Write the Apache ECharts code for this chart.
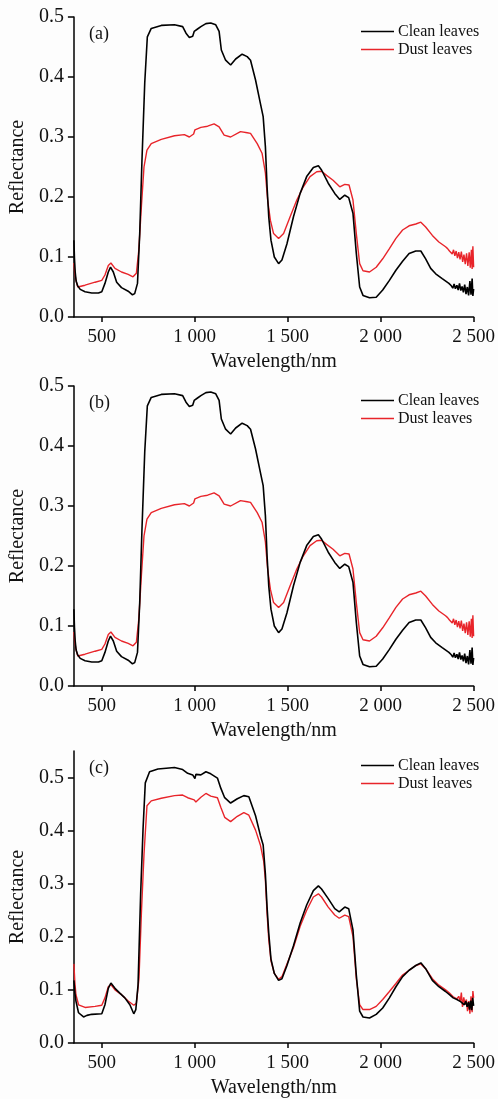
<!DOCTYPE html>
<html>
<head>
<meta charset="utf-8">
<title>Leaf reflectance spectra</title>
<script src="https://cdn.jsdelivr.net/npm/echarts@6/dist/echarts.min.js"></script>
<style>
  html, body { margin: 0; padding: 0; background: #fdfdfd; }
  #chart { width: 498px; height: 1099px; }
</style>
</head>
<body>
<div id="chart"></div>
<script>
// Wavelength ticks (nm) and their printed labels
const xTickValues = [500, 1000, 1500, 2000, 2500];
const xTickLabels = ['500', '1 000', '1 500', '2 000', '2 500'];
const yTickValues = [0, 0.1, 0.2, 0.3, 0.4, 0.5];
const seriesNames = ['Clean leaves', 'Dust leaves'];
const panelLabels = ['(a)', '(b)', '(c)'];

// Reflectance spectra [wavelength nm, reflectance], panels (a) and (b)
const cleanAB = [
  [350,0.128],[353,0.098],[357,0.075],[362,0.060],[370,0.052],[384,0.046],[410,0.042],[446,0.040],
  [482,0.040],[500,0.042],[517,0.056],[535,0.075],[547,0.083],[562,0.075],[580,0.058],[606,0.049],
  [642,0.043],[665,0.037],[677,0.039],[692,0.056],[704,0.139],[716,0.260],[731,0.390],[745,0.467],
  [766,0.481],[820,0.486],[891,0.487],[935,0.484],[953,0.473],[971,0.466],[989,0.468],[997,0.476],
  [1015,0.480],[1033,0.484],[1060,0.489],[1086,0.490],[1113,0.487],[1131,0.476],[1143,0.445],[1166,0.428],
  [1193,0.420],[1220,0.430],[1255,0.438],[1282,0.434],[1300,0.428],[1327,0.395],[1353,0.356],[1368,0.334],
  [1380,0.284],[1389,0.217],[1398,0.167],[1410,0.128],[1428,0.100],[1451,0.089],[1469,0.095],[1496,0.122],
  [1531,0.167],[1567,0.206],[1602,0.234],[1638,0.249],[1665,0.252],[1682,0.245],[1718,0.223],[1753,0.206],
  [1780,0.196],[1807,0.203],[1828,0.199],[1851,0.173],[1869,0.106],[1887,0.050],[1905,0.036],[1940,0.032],
  [1976,0.033],[2011,0.045],[2047,0.061],[2082,0.078],[2118,0.093],[2153,0.106],[2189,0.110],[2216,0.110],
  [2242,0.097],[2269,0.081],[2296,0.072],[2331,0.064],[2367,0.056],[2380,0.052],[2388,0.048],[2395,0.055],
  [2402,0.047],[2410,0.053],[2417,0.045],[2424,0.056],[2431,0.044],[2438,0.051],[2445,0.041],[2452,0.054],
  [2459,0.038],[2466,0.050],[2473,0.036],[2480,0.060],[2486,0.037],[2492,0.064],[2496,0.035],[2500,0.047]
];
const dustAB = [
  [350,0.090],[354,0.075],[361,0.061],[371,0.050],[410,0.053],[464,0.058],[500,0.061],[517,0.070],
  [535,0.086],[549,0.090],[571,0.081],[606,0.075],[642,0.071],[668,0.067],[686,0.073],[699,0.111],
  [713,0.184],[727,0.250],[743,0.278],[766,0.289],[820,0.296],[891,0.302],[944,0.304],[971,0.300],
  [994,0.305],[1001,0.312],[1033,0.316],[1069,0.318],[1104,0.322],[1131,0.317],[1158,0.303],[1193,0.300],
  [1246,0.309],[1282,0.307],[1300,0.306],[1336,0.289],[1362,0.273],[1380,0.240],[1392,0.195],[1407,0.161],
  [1424,0.139],[1451,0.131],[1478,0.139],[1513,0.167],[1549,0.195],[1584,0.217],[1620,0.234],[1656,0.242],
  [1682,0.243],[1709,0.236],[1744,0.228],[1780,0.217],[1807,0.221],[1830,0.220],[1851,0.195],[1869,0.139],
  [1887,0.089],[1905,0.077],[1940,0.075],[1976,0.083],[2011,0.097],[2047,0.114],[2082,0.131],[2118,0.145],
  [2153,0.152],[2189,0.155],[2216,0.158],[2242,0.150],[2278,0.136],[2313,0.125],[2349,0.117],[2360,0.114],
  [2370,0.110],[2378,0.113],[2385,0.105],[2392,0.112],[2399,0.102],[2406,0.110],[2413,0.098],[2420,0.108],
  [2427,0.096],[2434,0.109],[2441,0.092],[2448,0.104],[2455,0.088],[2462,0.106],[2469,0.085],[2476,0.108],
  [2482,0.082],[2488,0.112],[2492,0.080],[2496,0.118],[2500,0.083]
];

// Reflectance spectra, panel (c)
const cleanC = [
  [350,0.118],[355,0.095],[361,0.079],[375,0.057],[402,0.049],[420,0.052],[446,0.054],[500,0.055],
  [517,0.072],[535,0.103],[549,0.113],[571,0.103],[597,0.094],[624,0.085],[651,0.072],[672,0.055],
  [683,0.063],[695,0.109],[709,0.281],[722,0.404],[734,0.490],[757,0.511],[802,0.516],[891,0.519],
  [935,0.515],[962,0.508],[989,0.505],[1001,0.498],[1006,0.506],[1033,0.505],[1060,0.511],[1086,0.507],
  [1122,0.499],[1140,0.480],[1161,0.462],[1193,0.452],[1229,0.460],[1264,0.466],[1291,0.464],[1300,0.462],
  [1327,0.428],[1353,0.391],[1368,0.373],[1380,0.318],[1389,0.256],[1398,0.207],[1410,0.158],[1428,0.131],
  [1451,0.118],[1469,0.121],[1496,0.146],[1531,0.183],[1567,0.226],[1602,0.260],[1638,0.287],[1665,0.296],
  [1682,0.290],[1718,0.272],[1753,0.253],[1777,0.247],[1807,0.256],[1828,0.253],[1851,0.213],[1869,0.128],
  [1887,0.060],[1905,0.049],[1940,0.047],[1976,0.054],[2011,0.066],[2047,0.085],[2082,0.106],[2118,0.125],
  [2153,0.137],[2189,0.146],[2216,0.151],[2242,0.140],[2278,0.118],[2313,0.106],[2349,0.097],[2370,0.091],
  [2380,0.088],[2390,0.085],[2400,0.087],[2410,0.082],[2420,0.084],[2430,0.078],[2440,0.081],[2450,0.072],
  [2458,0.079],[2465,0.068],[2472,0.077],[2478,0.063],[2484,0.080],[2490,0.062],[2495,0.085],[2500,0.070]
];
const dustC = [
  [350,0.149],[355,0.115],[361,0.091],[375,0.072],[410,0.067],[464,0.069],[500,0.071],[517,0.085],
  [535,0.106],[549,0.110],[571,0.100],[606,0.091],[642,0.079],[672,0.071],[686,0.075],[700,0.121],
  [713,0.244],[727,0.355],[743,0.447],[766,0.456],[820,0.461],[891,0.466],[935,0.467],[962,0.462],
  [997,0.458],[1006,0.454],[1033,0.463],[1060,0.470],[1086,0.465],[1122,0.462],[1140,0.444],[1161,0.425],
  [1193,0.417],[1229,0.427],[1264,0.434],[1291,0.429],[1300,0.428],[1327,0.401],[1353,0.373],[1371,0.342],
  [1380,0.306],[1389,0.244],[1398,0.195],[1410,0.155],[1428,0.131],[1451,0.120],[1469,0.125],[1496,0.149],
  [1531,0.180],[1567,0.220],[1602,0.250],[1638,0.275],[1665,0.281],[1682,0.275],[1718,0.256],[1753,0.241],
  [1777,0.235],[1807,0.241],[1828,0.238],[1851,0.201],[1869,0.121],[1887,0.072],[1905,0.063],[1940,0.063],
  [1976,0.069],[2011,0.082],[2047,0.097],[2082,0.112],[2118,0.128],[2153,0.137],[2189,0.146],[2216,0.149],
  [2242,0.140],[2278,0.121],[2313,0.109],[2349,0.100],[2370,0.094],[2380,0.092],[2390,0.087],[2400,0.090],
  [2410,0.083],[2420,0.088],[2428,0.078],[2434,0.095],[2440,0.068],[2447,0.086],[2454,0.072],[2461,0.082],
  [2467,0.060],[2474,0.079],[2480,0.055],[2486,0.088],[2492,0.058],[2496,0.098],[2500,0.085]
];

const panelData = [[cleanAB, dustAB], [cleanAB, dustAB], [cleanC, dustC]];

// Layout of the three stacked panels
const panels = [
  { top: 17,  height: 300, ymax: 0.5 },
  { top: 386, height: 300, ymax: 0.5 },
  { top: 751, height: 298, ymax: 0.55 }
];
const plotLeft = 72, plotWidth = 403;
const serif = '"Liberation Serif", "Times New Roman", serif';
const lineColors = ['#000000', '#e8242a'];
const lineWidths = [1.6, 1.4];

const grid = [], xAxis = [], yAxis = [], series = [], legend = [], title = [];

panels.forEach((p, i) => {
  grid.push({ left: plotLeft, top: p.top, width: plotWidth, height: p.height });

  xAxis.push({
    gridIndex: i, type: 'value', min: 350, max: 2500,
    axisLine: { show: true, onZero: false, lineStyle: { color: '#000', width: 1.5 } },
    axisTick: { show: true, length: 5, customValues: xTickValues, lineStyle: { color: '#000', width: 1.5 } },
    axisLabel: {
      customValues: xTickValues,
      formatter: v => xTickLabels[xTickValues.indexOf(v)],
      fontFamily: serif, fontSize: 19, color: '#111', margin: 11
    },
    splitLine: { show: false },
    name: 'Wavelength/nm', nameLocation: 'middle', nameGap: 35,
    nameTextStyle: { fontFamily: serif, fontSize: 20, color: '#111' }
  });

  yAxis.push({
    gridIndex: i, type: 'value', min: 0, max: p.ymax,
    axisLine: { show: true, lineStyle: { color: '#000', width: 1.5 } },
    axisTick: { show: true, length: 6, customValues: yTickValues, lineStyle: { color: '#000', width: 1.5 } },
    axisLabel: {
      customValues: yTickValues,
      formatter: v => v.toFixed(1),
      fontFamily: serif, fontSize: 20, color: '#111', margin: 10
    },
    splitLine: { show: false },
    name: 'Reflectance', nameLocation: 'middle', nameGap: 45,
    nameTextStyle: { fontFamily: serif, fontSize: 20, color: '#111' }
  });

  panelData[i].forEach((d, k) => {
    series.push({
      name: seriesNames[k], type: 'line', xAxisIndex: i, yAxisIndex: i,
      data: d, symbol: 'none', showSymbol: false, silent: true, animation: false,
      lineStyle: { color: lineColors[k], width: lineWidths[k] }, itemStyle: { color: lineColors[k] },
      z: k === 0 ? 3 : 2
    });
  });

  legend.push({
    orient: 'vertical', left: 356, top: p.top + 1,
    icon: 'rect', itemWidth: 33, itemHeight: 1.6, itemGap: 1, selectedMode: false,
    data: seriesNames,
    textStyle: { fontFamily: serif, fontSize: 16, color: '#111', lineHeight: 17, padding: [0, 0, 0, -1] }
  });

  title.push({
    text: panelLabels[i], left: 84, top: p.top + 3,
    textStyle: { fontFamily: serif, fontSize: 18, fontWeight: 'normal', color: '#111' }
  });
});

const chart = echarts.init(document.getElementById('chart'), null, { renderer: 'canvas' });
chart.setOption({
  backgroundColor: '#fdfdfd',
  animation: false,
  title, legend, grid, xAxis, yAxis, series
});
</script>
</body>
</html>
